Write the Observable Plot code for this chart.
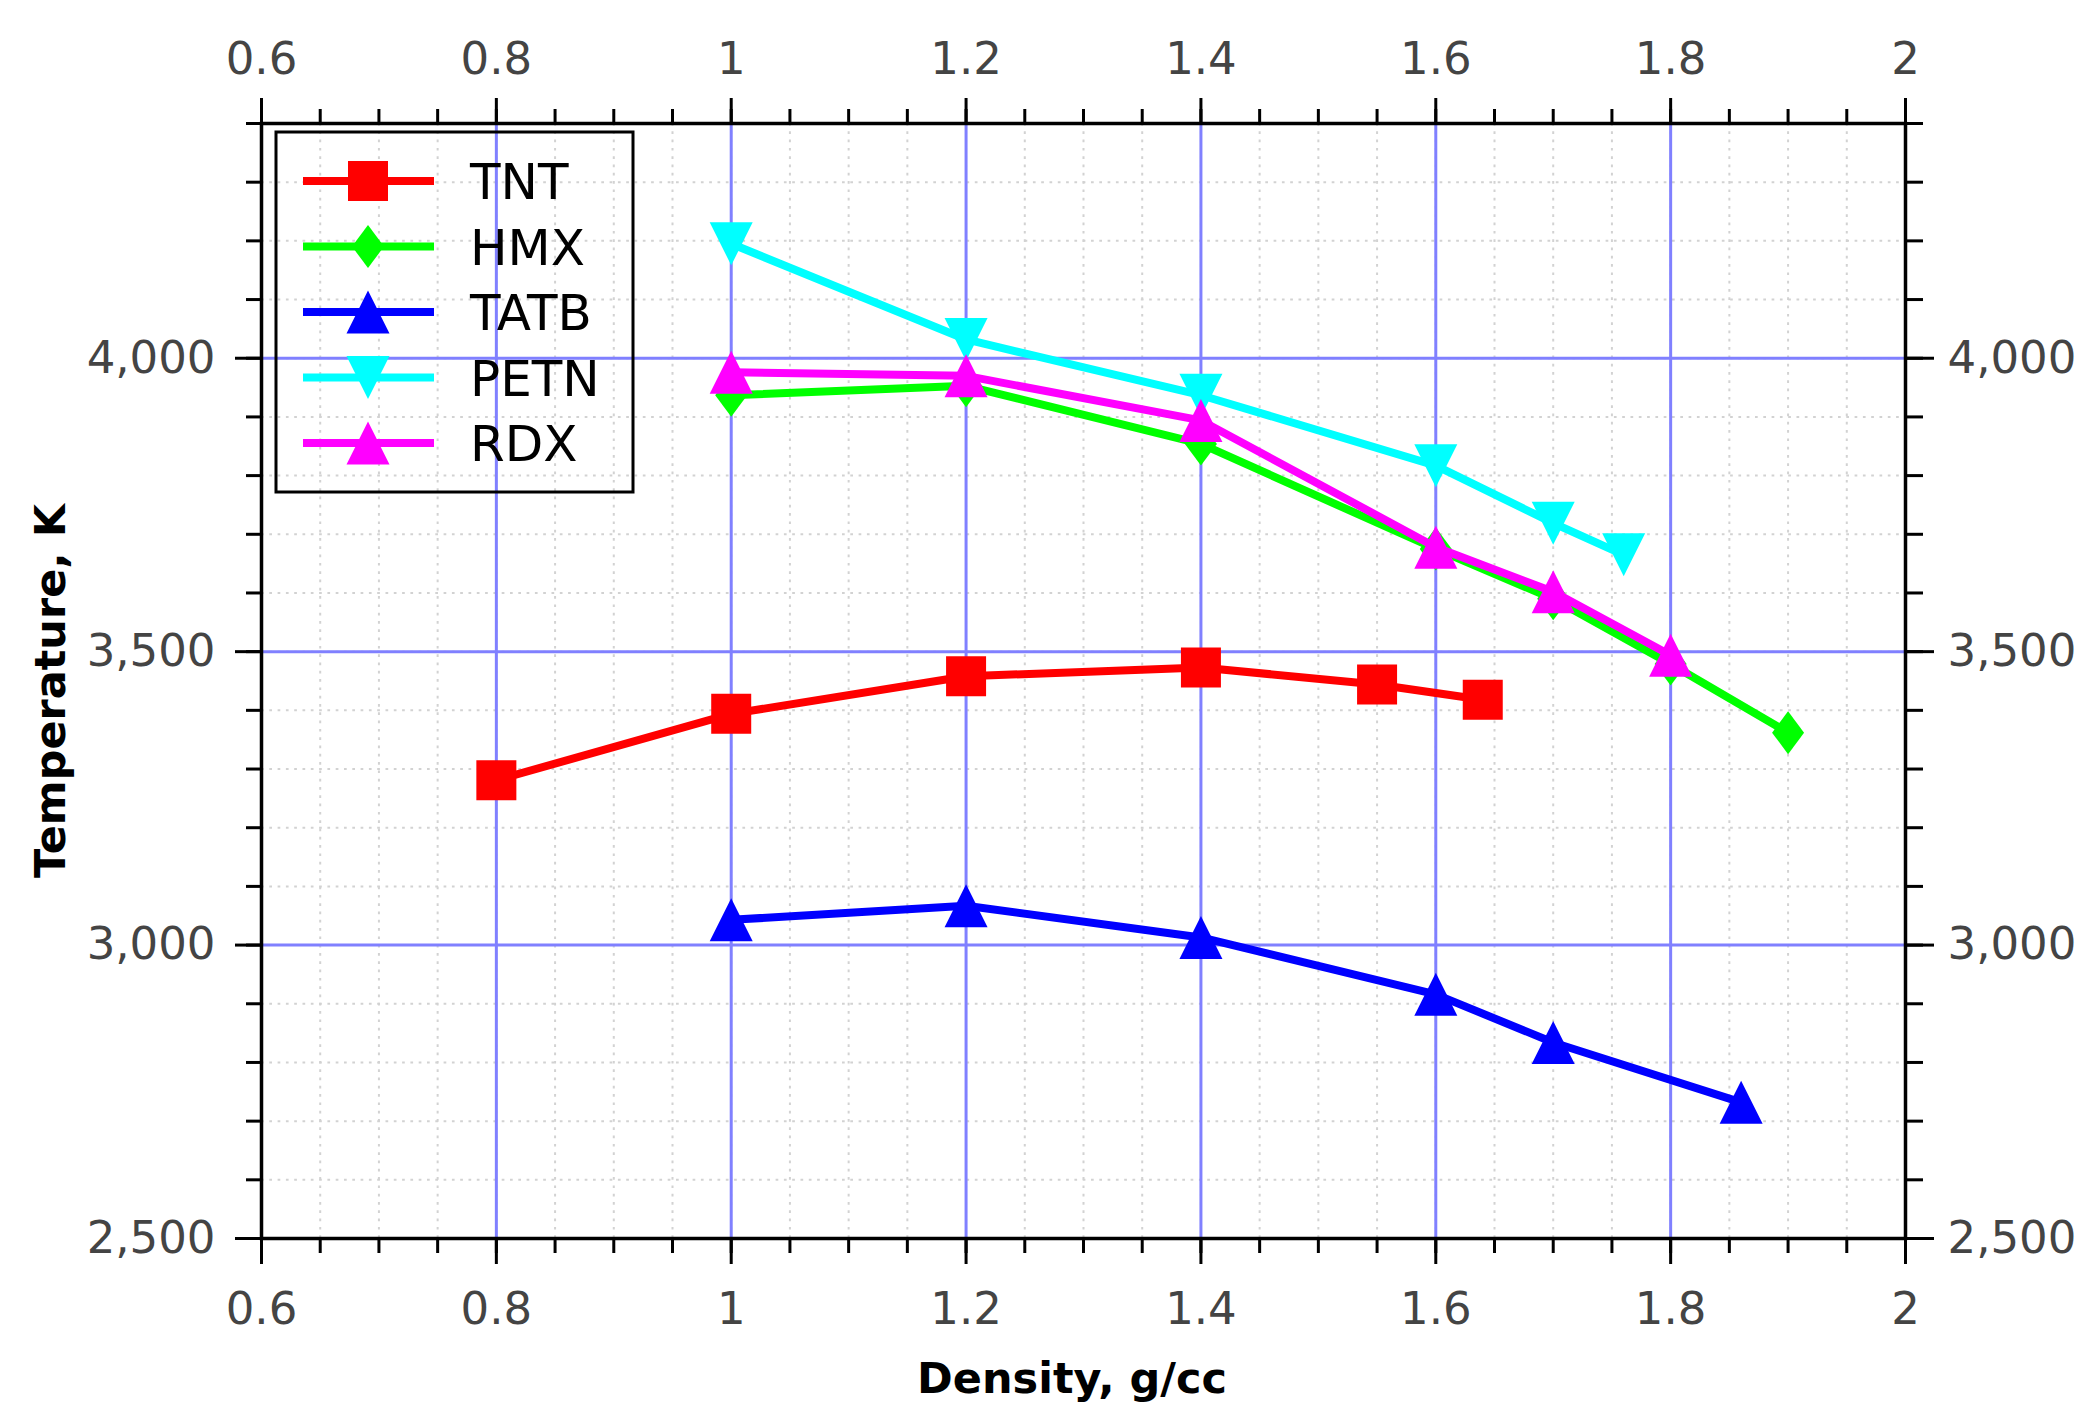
<!DOCTYPE html>
<html><head><meta charset="utf-8">
<script src="https://cdn.jsdelivr.net/npm/d3@7"></script>
<script src="https://cdn.jsdelivr.net/npm/@observablehq/plot@0.6"></script>
<style>body{margin:0;background:#fff}</style>
</head><body><div id="chart"></div>
<script>
// ---- data ----
const seriesNames = ["TNT", "HMX", "TATB", "PETN", "RDX"];
const seriesColors = ["#ff0000", "#00ff00", "#0000ff", "#00ffff", "#ff00ff"];

const tntDensity  = [0.8, 1.0, 1.2, 1.4, 1.55, 1.64];
const tntTemp     = [3281, 3394, 3458, 3473, 3444, 3418];
const hmxDensity  = [1.0, 1.2, 1.4, 1.6, 1.7, 1.8, 1.9];
const hmxTemp     = [3937, 3953, 3854, 3675, 3590, 3479, 3362];
const tatbDensity = [1.0, 1.2, 1.4, 1.6, 1.7, 1.86];
const tatbTemp    = [3043, 3067, 3013, 2916, 2834, 2732];
const petnDensity = [1.0, 1.2, 1.4, 1.6, 1.7, 1.76];
const petnTemp    = [4195, 4032, 3937, 3817, 3719, 3665];
const rdxDensity  = [1.0, 1.2, 1.4, 1.6, 1.7, 1.8];
const rdxTemp     = [3976, 3970, 3894, 3678, 3602, 3494];

const xTicks = [0.6, 0.8, 1, 1.2, 1.4, 1.6, 1.8, 2];
const yTicks = [2500, 3000, 3500, 4000];
const xGridMajor = [0.8, 1, 1.2, 1.4, 1.6, 1.8];
const yGridMajor = [3000, 3500, 4000];
const xMinorTicks = d3.range(12, 41).map(i => i / 20);
const yMinorTicks = d3.range(2500, 4401, 100);

// ---- symbols ----
const symSquare = {draw(c){c.moveTo(-20,-20);c.lineTo(20,-20);c.lineTo(20,20);c.lineTo(-20,20);c.closePath();}};
const symDiamond = {draw(c){c.moveTo(0,-21.5);c.lineTo(16,0);c.lineTo(0,21.5);c.lineTo(-16,0);c.closePath();}};
const symTriUp = {draw(c){c.moveTo(0,-21.5);c.lineTo(21.5,21.5);c.lineTo(-21.5,21.5);c.closePath();}};
const symTriDown = {draw(c){c.moveTo(0,21.5);c.lineTo(21.5,-21.5);c.lineTo(-21.5,-21.5);c.closePath();}};
const seriesSymbols = [symSquare, symDiamond, symTriUp, symTriDown, symTriUp];

const seriesData = [
  [tntDensity, tntTemp], [hmxDensity, hmxTemp], [tatbDensity, tatbTemp],
  [petnDensity, petnTemp], [rdxDensity, rdxTemp]
].map(([ds, ts], k) => ds.map((d, i) => ({series: seriesNames[k], density: d, temp: ts[i]})));

const tickCol = "#444";
const seriesMarks = seriesData.flatMap((rows, k) => [
  Plot.line(rows, {x: "density", y: "temp", stroke: seriesColors[k], strokeWidth: 8}),
  Plot.dot(rows, {x: "density", y: "temp", symbol: seriesSymbols[k], fill: seriesColors[k], stroke: "none", r: 20})
]);

const plot = Plot.plot({
  width: 2086, height: 1404,
  marginLeft: 261, marginRight: 181, marginTop: 123, marginBottom: 166,
  style: {fontFamily: "DejaVu Sans", background: "white", overflow: "visible"},
  x: {domain: [0.6, 2.0]},
  y: {domain: [2500, 4400]},
  marks: [
    Plot.ruleX(xMinorTicks, {stroke: "#d2d2d2", strokeWidth: 2, strokeDasharray: "2.7 5.6"}),
    Plot.ruleY(yMinorTicks, {stroke: "#d2d2d2", strokeWidth: 2, strokeDasharray: "2.7 5.6"}),
    Plot.ruleX(xGridMajor, {stroke: "#8080ff", strokeWidth: 3}),
    Plot.ruleY(yGridMajor, {stroke: "#8080ff", strokeWidth: 3}),
    ...seriesMarks,
    Plot.axisX(xMinorTicks, {anchor: "bottom", tickSize: 15, tickFormat: () => "", stroke: "black", strokeWidth: 3, label: null}),
    Plot.axisX(xMinorTicks, {anchor: "top", tickSize: 15, tickFormat: () => "", stroke: "black", strokeWidth: 3, label: null}),
    Plot.axisY(yMinorTicks, {anchor: "left", tickSize: 15, tickFormat: () => "", stroke: "black", strokeWidth: 3, label: null}),
    Plot.axisY(yMinorTicks, {anchor: "right", tickSize: 17, tickFormat: () => "", stroke: "black", strokeWidth: 3, label: null}),
    Plot.axisX(xTicks, {anchor: "bottom", tickSize: 26, tickPadding: 28, stroke: "black", strokeWidth: 3, fill: tickCol, fontSize: 45, label: null, tickFormat: d => String(d)}),
    Plot.axisX(xTicks, {anchor: "top", tickSize: 26, tickPadding: 24, stroke: "black", strokeWidth: 3, fill: tickCol, fontSize: 45, label: null, tickFormat: d => String(d)}),
    Plot.axisY(yTicks, {anchor: "left", tickSize: 26, tickPadding: 20, stroke: "black", strokeWidth: 3, fill: tickCol, fontSize: 45, label: null, tickFormat: d3.format(",")}),
    Plot.axisY(yTicks, {anchor: "right", tickSize: 28, tickPadding: 14, stroke: "black", strokeWidth: 3, fill: tickCol, fontSize: 45, label: null, tickFormat: d3.format(",")}),
    Plot.frame({stroke: "black", strokeWidth: 3.5})
  ]
});
document.getElementById("chart").appendChild(plot);

// ---- legend & axis titles ----
const svg = d3.select(plot);
const lg = svg.append("g");
lg.append("rect").attr("x", 276).attr("y", 132).attr("width", 357).attr("height", 360)
  .attr("fill", "none").attr("stroke", "black").attr("stroke-width", 3);
seriesNames.forEach((name, i) => {
  const y = 181 + i * 65.5;
  lg.append("line").attr("x1", 303).attr("x2", 434).attr("y1", y).attr("y2", y)
    .attr("stroke", seriesColors[i]).attr("stroke-width", 8);
  lg.append("path").attr("d", d3.symbol(seriesSymbols[i])())
    .attr("transform", `translate(368,${y})`).attr("fill", seriesColors[i]);
  lg.append("text").attr("x", 470).attr("y", y + 18).attr("font-size", 50)
    .attr("text-anchor", "start")
    .attr("font-family", "DejaVu Sans").attr("fill", "black").text(name);
});
svg.append("text").attr("x", 1072).attr("y", 1393).attr("text-anchor", "middle")
  .attr("font-family", "DejaVu Sans").attr("font-weight", "bold").attr("font-size", 43)
  .attr("fill", "black").text("Density, g/cc");
svg.append("text").attr("transform", "translate(65,691) rotate(-90)").attr("text-anchor", "middle")
  .attr("font-family", "DejaVu Sans").attr("font-weight", "bold").attr("font-size", 43)
  .attr("fill", "black").text("Temperature, K");
</script></body></html>
